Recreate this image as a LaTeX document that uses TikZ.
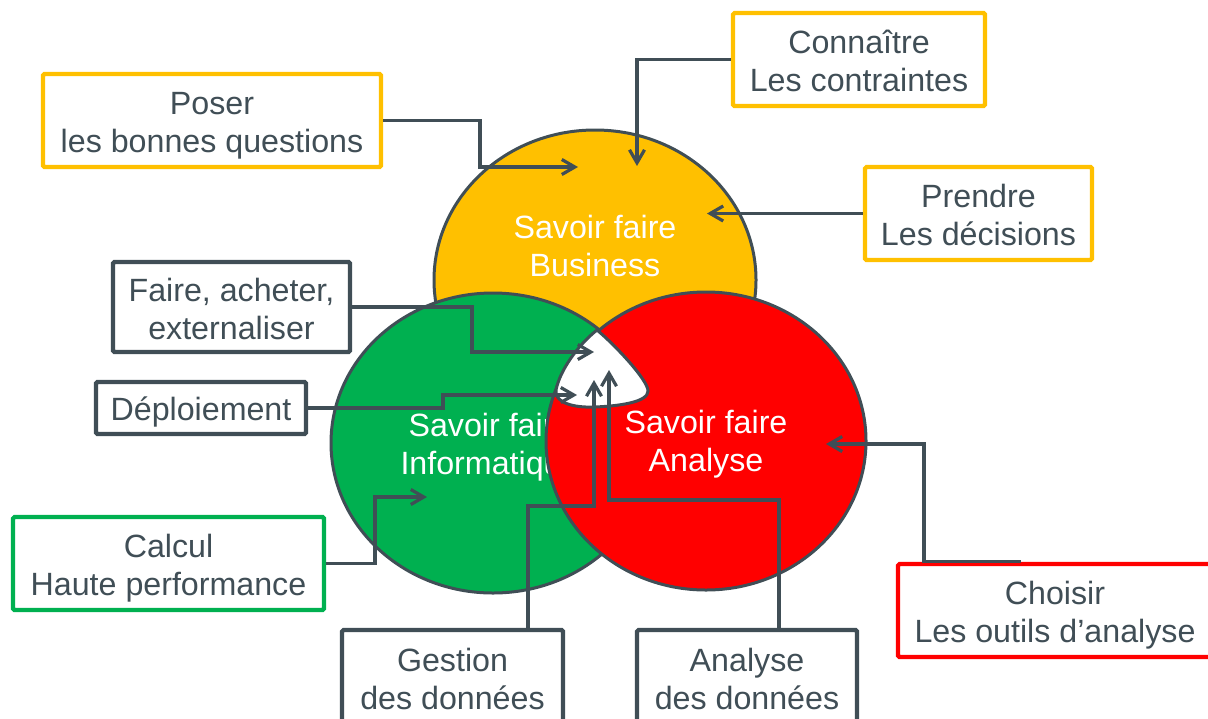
\documentclass[tikz,border=0pt]{standalone}
\usepackage{fontspec}
\setmainfont{Liberation Sans}
\usetikzlibrary{arrows.meta}
\definecolor{ink}{RGB}{64,78,86}
\definecolor{byellow}{RGB}{255,192,0}
\definecolor{bgreen}{RGB}{0,176,80}
\definecolor{bred}{RGB}{255,0,0}
% text centred between cap top of first line and baseline of last line
\newcommand\twoline[2]{\raisebox{0pt}[11.1pt][19pt]{\begin{tabular}[t]{@{}c@{}}#1\\#2\end{tabular}}}
\newcommand\boxtwo[2]{\raisebox{0pt}[13.1pt][19pt]{\begin{tabular}[t]{@{}c@{}}#1\\#2\end{tabular}}}
\newcommand\boxone[1]{\raisebox{0pt}[12.1pt][0pt]{#1}}
\begin{document}
\begin{tikzpicture}[x=0.5pt,y=-0.5pt,
  lbl/.style={draw=ink, line width=2.2pt, fill=white, text=ink,
    font=\fontsize{16.1}{19}\selectfont, inner sep=0pt, rounded corners=0.8pt},
  ylbl/.style={lbl, draw=byellow},
  glbl/.style={lbl, draw=bgreen},
  rlbl/.style={lbl, draw=bred},
  circ/.style={draw=ink, line width=1.5pt},
  ctext/.style={text=white, inner sep=0pt, font=\fontsize{16.1}{19}\selectfont},
  conn/.style={draw=ink, line width=1.6pt, -{Straight Barb[length=6.5pt,width=7.5pt]}},
]
\useasboundingbox (0,0) rectangle (1208,718);

% circles
\fill[byellow, circ] (595,280) ellipse [x radius=80.5pt, y radius=75pt];
\node[ctext] (tBus) at (595,246) {\twoline{Savoir faire}{Business}};
\fill[bgreen, circ] (493,443) ellipse [x radius=81pt, y radius=75pt];
\node[ctext] (tInf) at (490,444.5) {\twoline{Savoir faire}{Informatique}};
\fill[bred, circ] (706,441) ellipse [x radius=80pt, y radius=74.5pt];
\node[ctext] (tAna) at (706,441.3) {\twoline{Savoir faire}{Analyse}};

% central white region
\filldraw[fill=white, draw=ink, line width=1.5pt]
  (597,330) .. controls (578,345) and (560,370) .. (556,390)
  .. controls (554,402) and (572,408) .. (595,407)
  .. controls (620,406) and (648,402) .. (648,391)
  .. controls (648,380) and (615,345) .. (597,330) -- cycle;

% boxes
\node[ylbl, minimum width=169pt, minimum height=46.5pt] (poser) at (212,120.5)
  {\boxtwo{Poser}{les bonnes questions}};
\node[ylbl, minimum width=126pt, minimum height=46.5pt] (conn) at (859,59.5)
  {\boxtwo{Connaître}{Les contraintes}};
\node[ylbl, minimum width=113.5pt, minimum height=46.5pt] (prendre) at (978.5,213.5)
  {\boxtwo{Prendre}{Les décisions}};
\node[lbl, minimum width=118.5pt, minimum height=45pt] (faire) at (231.5,307)
  {\boxtwo{Faire, acheter,}{externaliser}};
\node[lbl, minimum width=105pt, minimum height=26pt] (dep) at (201,408)
  {\boxone{Déploiement}};
\node[glbl, minimum width=155.5pt, minimum height=46.5pt] (calc) at (168.5,563.5)
  {\boxtwo{Calcul}{Haute performance}};
\node[lbl, minimum width=110.5pt, minimum height=47.5pt] (gest) at (452.5,677.5)
  {\boxtwo{Gestion}{des données}};
\node[lbl, minimum width=110pt, minimum height=47.5pt] (anad) at (747,677.5)
  {\boxtwo{Analyse}{des données}};
\node[rlbl, minimum width=157pt, minimum height=46.5pt] (choi) at (1055,610.5)
  {\boxtwo{Choisir}{Les outils d’analyse}};

% arrow tips
\coordinate (tPoser) at (578,167);
\coordinate (tConn) at (637,166);
\coordinate (tPrendre) at (707,213.5);
\coordinate (tFaire) at (594,352);
\coordinate (tDep) at (577,395);
\coordinate (tCalc) at (427,497);
\coordinate (tGest) at (594,380);
\coordinate (tAnad) at (609,370);
\coordinate (tChoi) at (826,444);

% connectors
\draw[conn] (poser.east) -| (480,167) -- (tPoser);
\draw[conn] (conn.west) -| (tConn);
\draw[conn] (prendre.west) -- (tPrendre);
\draw[conn] (faire.east) -| (472,352) -- (tFaire);
\draw[conn] (dep.east) -| (443,395) -- (tDep);
\draw[conn] (calc.east) -| (375,497) -- (tCalc);
\draw[conn] ([xshift=37.75pt]gest.north) |- (594,506) -- (tGest);
\draw[conn] ([xshift=16pt]anad.north) |- (609,500) -- (tAnad);
\draw[conn] ([xshift=-17pt]choi.north) -- ([xshift=-65.5pt]choi.north) |- (tChoi);
\end{tikzpicture}
\end{document}
